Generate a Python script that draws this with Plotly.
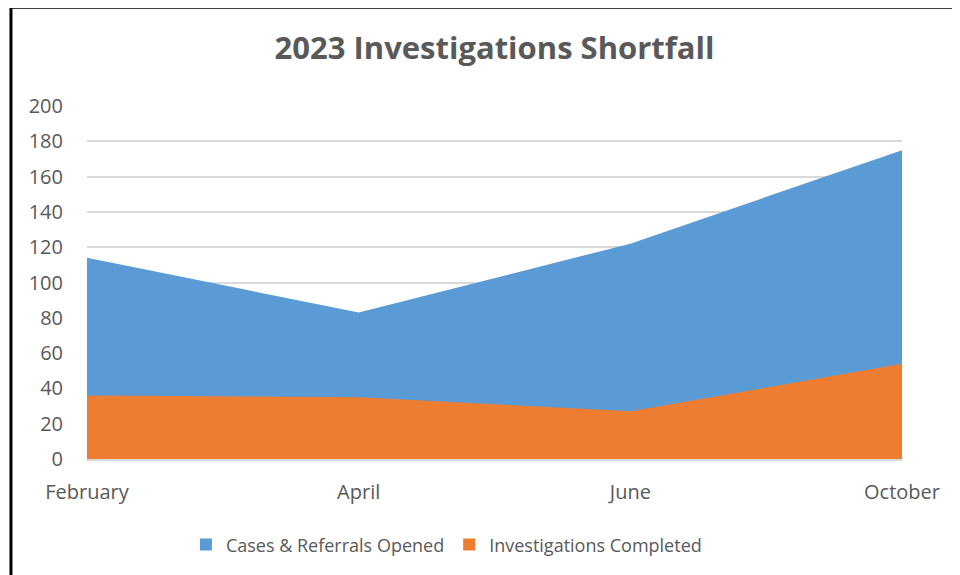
import plotly.graph_objects as go

MONTHS = ["February", "April", "June", "October"]
CASES_OPENED = [114, 83, 122, 175]
INVESTIGATIONS_DONE = [36, 35, 27, 54]

BLUE = "#5B9BD5"
ORANGE = "#ED7D31"
GREY_TEXT = "#595959"
GRID = "#D9D9D9"
FONT = "Open Sans"

# the page body adds an 8px offset, so the figure is shifted back by that much
PAGE_OFFSET = 8

fig = go.Figure()

# areas overlap (not stacked): blue first, orange drawn over it
fig.add_trace(go.Scatter(
	x=MONTHS, y=CASES_OPENED, fill="tozeroy", mode="none",
	fillcolor=BLUE, showlegend=False, hoverinfo="x+y",
))
fig.add_trace(go.Scatter(
	x=MONTHS, y=INVESTIGATIONS_DONE, fill="tozeroy", mode="none",
	fillcolor=ORANGE, showlegend=False, hoverinfo="x+y",
))

# square legend swatches like Excel
for name, color in [("Cases & Referrals Opened", BLUE), ("Investigations Completed", ORANGE)]:
	fig.add_trace(go.Scatter(
		x=[None], y=[None], mode="markers", name=name,
		marker=dict(symbol="square", size=12, color=color),
	))

fig.update_xaxes(
	type="category", range=[0, 3], showgrid=False,
	showline=True, linecolor=GRID, linewidth=1.5,
	ticks="", ticklabelstandoff=14,
	tickfont=dict(family=FONT, size=20, color=GREY_TEXT),
)
fig.update_yaxes(
	range=[0, 200], dtick=20, showgrid=True, gridcolor=GRID, gridwidth=1.5,
	zeroline=False, ticks="", ticklabelstandoff=23,
	tickfont=dict(family=FONT, size=20, color=GREY_TEXT),
)

fig.update_layout(
	width=960 - PAGE_OFFSET, height=575 - PAGE_OFFSET,
	margin=dict(l=87 - PAGE_OFFSET, r=58, t=106 - PAGE_OFFSET, b=116),
	paper_bgcolor="white", plot_bgcolor="white",
	title=dict(
		text="<b>2023 Investigations Shortfall</b>",
		x=0.5, xref="paper", xanchor="center",
		y=1 - (48 - PAGE_OFFSET) / (575 - PAGE_OFFSET), yref="container", yanchor="middle",
		font=dict(family=FONT, size=31, color=GREY_TEXT),
	),
	legend=dict(
		orientation="h", x=0.441, xanchor="center", y=-0.243, yanchor="middle",
		font=dict(family=FONT, size=18, color=GREY_TEXT),
		itemsizing="constant", itemwidth=30, tracegroupgap=0,
	),
	shapes=[
		# chart frame (only left and top edges are visible in the crop)
		dict(type="line", xref="paper", yref="paper", x0=-0.0933, x1=-0.0933, y0=1.28, y1=-0.36,
			line=dict(color="black", width=3)),
		dict(type="line", xref="paper", yref="paper", x0=-0.0933, x1=1.2, y0=1.28, y1=1.28,
			line=dict(color="black", width=3)),
	],
)

fig.write_html("out.html")
